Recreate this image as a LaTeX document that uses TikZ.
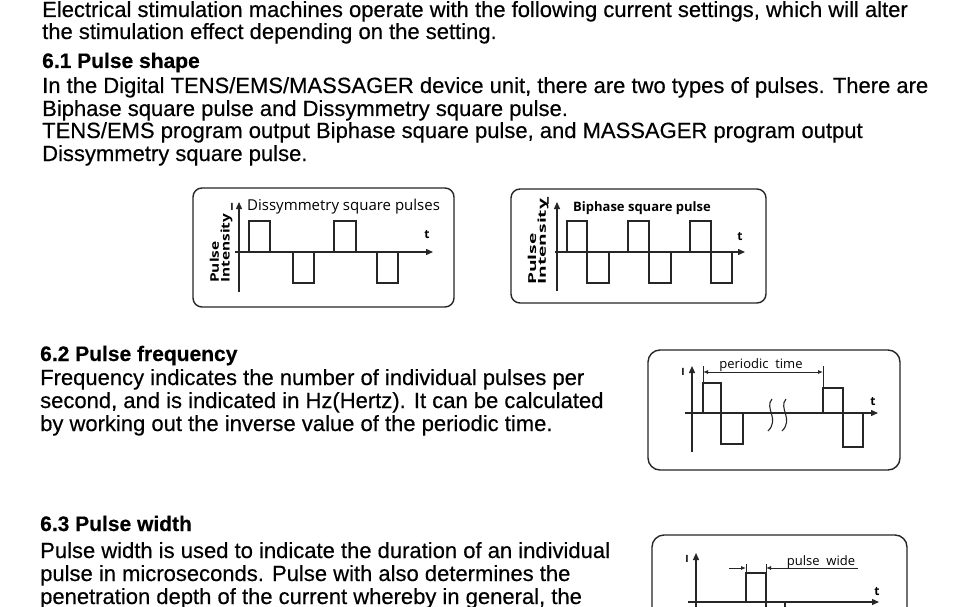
\documentclass[tikz,border=0pt]{standalone}
\usepackage{fontspec}
\setmainfont[FakeBold=0.4]{Liberation Sans}
\newfontfamily\boxfont{Open Sans}
\usetikzlibrary{arrows.meta}
\begin{document}
\begin{tikzpicture}[x=1pt,y=-1pt,
  body/.style={anchor=base west, inner sep=0pt, font=\fontsize{22}{26}\selectfont},
  head/.style={anchor=base west, inner sep=0pt, font=\fontsize{21}{25}\selectfont\bfseries},
  frame/.style={draw=black!85, line width=1.4pt, rounded corners=9pt},
  wave/.style={draw=black!85, line width=1.3pt},
  axis/.style={draw=black!85, line width=1.3pt, -{Triangle[length=7pt,width=6pt]}},
  thin/.style={draw=black!85, line width=0.9pt},
  dimarrow/.style={draw=black!85, line width=0.9pt},
  title/.style={inner sep=0pt, font=\boxfont\fontsize{15}{17}\selectfont},
  ylab/.style={inner sep=0pt, rotate=90, anchor=south west},
  tlab/.style={inner sep=0pt, font=\boxfont\bfseries\fontsize{12}{14}\selectfont},
  ilab/.style={inner sep=0pt, font=\boxfont\bfseries\fontsize{10}{12}\selectfont},
  hand/.style={inner sep=0pt, font=\boxfont\fontsize{13}{15}\selectfont}
]
\clip (0,0) rectangle (960,607);
\fill[white] (0,0) rectangle (960,607);

% ---------------- text ----------------
\node[body] (l1) at (42,17) {Electrical stimulation machines operate with the following current settings, which will alter};
\node[body] (l2) at (42,39) {the stimulation effect depending on the setting.};
\node[head] (h1) at (42,68) {6.1 Pulse shape};
\node[body] (l3) at (42,93) {In the Digital TENS/EMS/MASSAGER device unit, there are two types of pulses. There are};
\node[body] (l4) at (42,116) {Biphase square pulse and Dissymmetry square pulse.};
\node[body] (l5) at (42,138) {TENS/EMS program output Biphase square pulse, and MASSAGER program output};
\node[body] (l6) at (42,161) {Dissymmetry square pulse.};

\node[head] (h2) at (40,361) {6.2 Pulse frequency};
\node[body] (m1) at (40,385) {Frequency indicates the number of individual pulses per};
\node[body] (m2) at (40,408) {second, and is indicated in Hz(Hertz). It can be calculated};
\node[body] (m3) at (40,431) {by working out the inverse value of the periodic time.};

\node[head] (h3) at (40,531) {6.3 Pulse width};
\node[body] (n1) at (40,558) {Pulse width is used to indicate the duration of an individual};
\node[body] (n2) at (40,581) {pulse in microseconds. Pulse with also determines the};
\node[body] (n3) at (40,604) {penetration depth of the current whereby in general, the};

% ---------------- box 1: dissymmetry ----------------
\draw[frame] (193,188) rectangle (454,307);
\draw[axis] (239,292) -- (239,202);
\draw[axis] (235,252) -- (433,252);
\node[ilab] (i1) at (232,207) {I};
\node[ylab] (p1) at (234,283) {\resizebox*{69pt}{25pt}{\boxfont\bfseries\begin{tabular}{@{}l@{}}Pulse\\[-3pt]Intensity\end{tabular}}};
\node[title, anchor=west] (t1) at (247,207) {Dissymmetry square pulses};
\node[tlab] (tt1) at (427,235) {t};
\draw[wave] (249,252) -- (249,221) -- (270,221) -- (270,252);
\draw[wave] (293,252) -- (293,283) -- (314,283) -- (314,252);
\draw[wave] (334,252) -- (334,221) -- (356,221) -- (356,252);
\draw[wave] (377,252) -- (377,283) -- (398,283) -- (398,252);

% ---------------- box 2: biphase ----------------
\draw[frame] (511,189) rectangle (766,303);
\draw[axis] (557,291) -- (557,202);
\draw[axis] (555,252) -- (745,252);
\node[ilab] (i2) at (548,201) {I};
\node[ylab] (p2) at (550,285) {\resizebox*{86pt}{23pt}{\boxfont\bfseries\begin{tabular}{@{}l@{}}Pulse\\[-3pt]Intensity\end{tabular}}};
\node[title, anchor=west, font=\boxfont\bfseries\fontsize{13}{15}\selectfont] (t2) at (573,208) {Biphase square pulse};
\node[tlab] (tt2) at (740,237) {t};
\draw[wave] (567,252) -- (567,221) -- (587,221) -- (587,283) -- (609,283) -- (609,252);
\draw[wave] (628,252) -- (628,221) -- (649,221) -- (649,283) -- (671,283) -- (671,252);
\draw[wave] (690,252) -- (690,221) -- (711,221) -- (711,283) -- (732,283) -- (732,252);

% ---------------- box 3: periodic time ----------------
\draw[frame, rounded corners=12pt] (648,350) rectangle (900,470);
\draw[axis] (692,452) -- (692,366);
\draw[axis] (685,413) -- (878,413);
\node[ilab] (i3) at (683,372) {I};
\node[tlab] (tt3) at (873,402) {t};
\draw[wave] (703,413) -- (703,383) -- (721,383) -- (721,444) -- (743,444) -- (743,413);
\draw[wave] (823,413) -- (823,388) -- (843,388) -- (843,447) -- (863,447) -- (863,413);
\coordinate (pa) at (703,372);
\coordinate (pb) at (823,372);
\draw[thin] (703,366) -- (703,383);
\draw[thin] (823,366) -- (823,388);
\draw[dimarrow, {Latex[length=5pt,width=4pt]}-{Latex[length=5pt,width=4pt]}] (pa) -- (pb);
\node[hand, anchor=base] (pt) at (761,368) {periodic\ \ time};
\draw[thin, line width=1.1pt] (772,399) .. controls (764,408) and (780,419) .. (768,431);
\draw[thin, line width=1.1pt] (786,399) .. controls (778,408) and (794,419) .. (782,431);

% ---------------- box 4: pulse wide ----------------
\draw[frame, rounded corners=12pt] (652,535) rectangle (907,640);
\draw[axis] (696,620) -- (696,553);
\draw[axis] (688,602) -- (879,602);
\node[ilab] (i4) at (687,559) {I};
\node[tlab] (tt4) at (877,592) {t};
\draw[wave] (746,602) -- (746,573) -- (766,573) -- (766,620) -- (785,620) -- (785,602);
\coordinate (wa) at (729,568);
\coordinate (wb) at (746,568);
\coordinate (wc) at (766,568);
\coordinate (wd) at (858,568);
\draw[thin] (746,564) -- (746,572);
\draw[thin] (766,564) -- (766,572);
\draw[dimarrow, -{Latex[length=5pt,width=4pt]}] (wa) -- (wb);
\draw[dimarrow, -{Latex[length=5pt,width=4pt]}] (wd) -- (wc);
\node[hand, anchor=base] (pw) at (821,565) {pulse\ \ wide};
\end{tikzpicture}
\end{document}
